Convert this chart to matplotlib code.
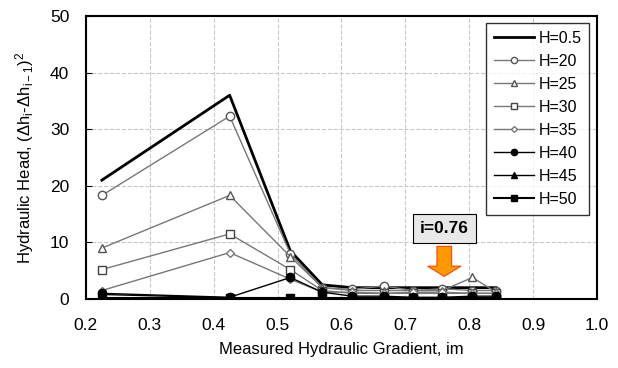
import matplotlib.pyplot as plt
from matplotlib.patches import FancyArrow

plt.rcParams['font.family'] = ['Liberation Sans', 'DejaVu Sans']
plt.rcParams['mathtext.default'] = 'regular'

# measured gradient (x) shared by all series
grad = [0.225, 0.425, 0.52, 0.57, 0.617, 0.666, 0.712, 0.758, 0.805, 0.842]

h05 = [21.0, 36.0, 8.5, 2.5, 2.0, 2.0, 2.0, 2.0, 2.0, 2.0]
h20 = [18.3, 32.3, 8.0, 2.0, 1.7, 2.3, 1.5, 1.8, 1.5, 1.5]
h25 = [9.0, 18.3, 7.5, 2.0, 1.5, 1.5, 1.5, 1.5, 3.8, 1.2]
h30 = [5.2, 11.5, 5.2, 1.5, 1.0, 1.0, 1.0, 1.0, 1.0, 1.0]
h35 = [1.5, 8.2, 3.5, 1.2, 1.2, 1.0, 1.2, 1.2, 1.0, 1.0]
h40 = [1.0, 0.3, 3.8, 1.2, 0.5, 0.5, 0.3, 0.3, 0.5, 0.5]
h45 = [0.8, 0.2, 0.2, 0.2, 0.2, 0.2, 0.2, 0.2, 0.2, 0.2]
h50 = [0.1, 0.1, 0.1, 0.1, 0.1, 0.1, 0.1, 0.1, 0.1, 0.1]

xticks = [0.2, 0.3, 0.4, 0.5, 0.6, 0.7, 0.8, 0.9, 1.0]
yticks = [0, 10, 20, 30, 40, 50]

fig = plt.figure(figsize=(6.18, 3.68), dpi=100)
ax = fig.add_axes([0.139, 0.1875, 0.827, 0.769])

grey = '#777777'
ax.plot(grad, h05, color='black', lw=2, label='H=0.5')
ax.plot(grad, h20, color=grey, lw=1, marker='o', ms=6, mfc='white', mec='#555555', label='H=20')
ax.plot(grad, h25, color=grey, lw=1, marker='^', ms=6, mfc='white', mec='#555555', label='H=25')
ax.plot(grad, h30, color=grey, lw=1, marker='s', ms=6, mfc='white', mec='#444444', label='H=30')
ax.plot(grad, h35, color=grey, lw=1, marker='D', ms=4, mfc='white', mec='#777777', label='H=35')
ax.plot(grad, h40, color='black', lw=1, marker='o', ms=6, mfc='black', mec='black', label='H=40')
ax.plot(grad, h45, color='black', lw=1, marker='^', ms=6, mfc='black', mec='black', label='H=45')
ax.plot(grad, h50, color='black', lw=1.5, marker='s', ms=6, mfc='black', mec='black', label='H=50')

ax.set_xlim(0.2, 1.0)
ax.set_ylim(0, 50)
ax.set_xticks(xticks)
ax.set_yticks(yticks)
ax.set_xticklabels(['%.1f' % v for v in xticks])
ax.tick_params(axis='x', length=0, pad=14, labelsize=12.5)
ax.tick_params(axis='y', length=4, direction='in', pad=12, labelsize=12.5)
ax.grid(True, color='#c8c8c8', ls='--', lw=0.8)
for s in ax.spines.values():
    s.set_linewidth(1.5)

ax.set_xlabel('Measured Hydraulic Gradient, im', fontsize=12, labelpad=6)
ax.set_ylabel(r'Hydraulic Head, $(\Delta h_i$-$\Delta h_{i-1})^2$', fontsize=12, labelpad=10)

leg = ax.legend(loc='upper right', bbox_to_anchor=(0.985, 0.975), borderaxespad=0,
                frameon=True, fancybox=False, edgecolor='black', fontsize=11.5,
                handlelength=2.5, labelspacing=0.5, borderpad=0.5, handletextpad=0.3,
                markerscale=0.75)
leg.get_frame().set_linewidth(1)

ax.text(0.761, 12.5, 'i=0.76', fontsize=12.5, fontweight='bold', ha='center', va='center',
        bbox=dict(boxstyle='square,pad=0.4', fc='#e8e8e8', ec='black', lw=0.8))
ax.add_patch(FancyArrow(0.761, 9.3, 0, -5.3, width=0.023, head_width=0.052, head_length=1.8,
                        length_includes_head=True, fc='#ff9900', ec='#ff4400', lw=0.8, zorder=5))

fig.savefig('out.png', dpi=100)
